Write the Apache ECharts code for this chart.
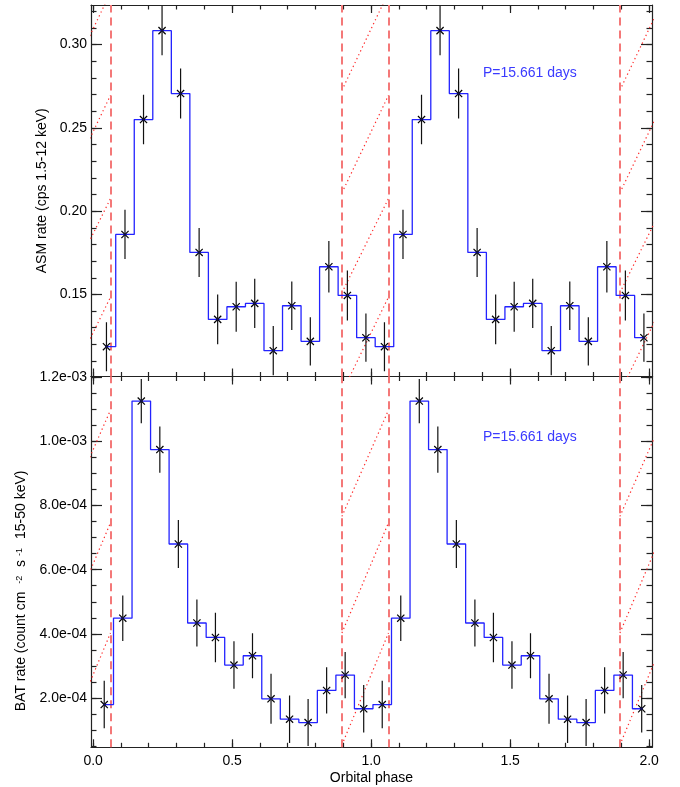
<!DOCTYPE html>
<html><head><meta charset="utf-8">
<script src="https://cdn.jsdelivr.net/npm/echarts@6/dist/echarts.min.js"></script>
<style>html,body{margin:0;padding:0;background:#fff}#c{width:680px;height:787px}</style>
</head><body><div id="c"></div>
<script>
// ---------------- data ----------------
const binWidth = 1 / 15;            // 15 phase bins per orbit
const asmPhase0 = 0.048;            // centre of first ASM bin
const batPhase0 = 0.040;            // centre of first BAT bin
const asmRate = [0.1186, 0.186, 0.255, 0.3084, 0.2706, 0.1752, 0.135, 0.1426, 0.1446, 0.1162, 0.1432, 0.1218, 0.1666, 0.1494, 0.124];
const asmErr  = [0.0147, 0.0148, 0.0149, 0.0148, 0.0150, 0.0147, 0.0149, 0.0150, 0.0148, 0.0148, 0.0145, 0.0145, 0.0154, 0.0150, 0.0145];
const batRate = [1.80e-4, 4.49e-4, 1.125e-3, 9.74e-4, 6.80e-4, 4.34e-4, 3.89e-4, 3.03e-4, 3.32e-4, 1.98e-4, 1.345e-4, 1.24e-4, 2.24e-4, 2.72e-4, 1.67e-4];
const batErr  = [7.4e-5, 7.1e-5, 6.9e-5, 7.2e-5, 7.5e-5, 7.3e-5, 7.7e-5, 7.4e-5, 7.0e-5, 7.8e-5, 7.4e-5, 7.3e-5, 7.2e-5, 7.2e-5, 7.4e-5];
const eclipseStart = 0.895, eclipseEnd = 1.0625;     // dashed lines (mod 1)
const dashedPhases = [0.0625, 0.895, 1.0625, 1.895];
const asmHatchStart = [0.091, 0.151, 0.211, 0.2726];
const asmHatchEnd   = [0.1484, 0.2076, 0.2696, 0.3314];
const batHatchStart = [0.544e-4, 4.03e-4, 7.66e-4];
const batHatchEnd   = [4.03e-4, 7.46e-4, 10.97e-4];
const xTicks   = [0.0, 0.5, 1.0, 1.5, 2.0];
const asmTicks = [0.15, 0.20, 0.25, 0.30];
const batTicks = [2e-4, 4e-4, 6e-4, 8e-4, 1.0e-3, 1.2e-3];
const periodLabel = 'P=15.661 days';
// axis ranges
const xMin = -0.0076, xMax = 2.0104;
const asmMin = 0.1007, asmMax = 0.3238;
const batMin = 4.7e-5, batMax = 1.2015e-3;

// ---------------- helpers ----------------
const r = v => Math.round(v * 1e9) / 1e9;
function steps(a, b, s) { const o = []; for (let i = 0; a + i * s <= b + s * 1e-6; i++) o.push(r(a + i * s)); return o; }
const xMinor = steps(0, 2, 0.1);
const asmMinor = steps(0.11, 0.32, 0.01);
const batMinor = steps(5e-5, 1.2e-3, 5e-5);
const FONT = 'Liberation Sans';

function twoCycles(rate, err, p0) {
  const pts = [];
  for (let c = 0; c < 2; c++) rate.forEach((v, i) => pts.push([r(c + p0 + i * binWidth), v, err[i]]));
  return pts;
}

const panels = [
  { rate: asmRate, err: asmErr, p0: asmPhase0, min: asmMin, max: asmMax, ticks: asmTicks, minor: asmMinor,
    hs: asmHatchStart, he: asmHatchEnd, fmt: v => v.toFixed(2),
    name: 'ASM rate (cps 1.5-12 keV)', gap: 37, rich: null },
  { rate: batRate, err: batErr, p0: batPhase0, min: batMin, max: batMax, ticks: batTicks, minor: batMinor,
    hs: batHatchStart, he: batHatchEnd, fmt: v => v.toExponential(1).replace(/e([+-])(\d)$/, 'e$10$2'),
    name: '{n|BAT rate (count cm }{s|-2}{n| s}{s|-1}{n| 15-50 keV)}', gap: 47, rich: true }
];

const grids = [
  { left: 91, top: 5, width: 561, height: 371.5 },
  { left: 91, top: 376.5, width: 561, height: 370.8 }
];

const xAxes = [], yAxes = [], series = [];
const lineCol = '#222';

panels.forEach((p, g) => {
  [['bottom', true], ['bottom', false], ['top', true], ['top', false]].forEach(([pos, major]) => {
    const vals = major ? xTicks : xMinor;
    const showLabel = major && pos === 'bottom' && g === 1;
    const ax = {
      type: 'value', gridIndex: g, position: pos, min: xMin, max: xMax,
      axisLine: { show: major, onZero: false, lineStyle: { color: lineCol, width: 1.2 } },
      axisTick: { show: true, inside: true, length: major ? 8 : 4.5, customValues: vals, lineStyle: { color: lineCol, width: 1.2 } },
      axisLabel: showLabel ? { show: true, customValues: vals, margin: 7, formatter: v => v.toFixed(1), fontFamily: FONT, fontSize: 14, color: '#000' } : { show: false },
      splitLine: { show: false }
    };
    if (showLabel) {
      ax.name = 'Orbital phase'; ax.nameLocation = 'middle'; ax.nameGap = 24;
      ax.nameTextStyle = { fontFamily: FONT, fontSize: 14, color: '#000' };
    }
    xAxes.push(ax);
  });
  [['left', true], ['left', false], ['right', true], ['right', false]].forEach(([pos, major]) => {
    const vals = major ? p.ticks : p.minor;
    const showLabel = major && pos === 'left';
    const ax = {
      type: 'value', gridIndex: g, position: pos, min: p.min, max: p.max,
      axisLine: { show: major, onZero: false, lineStyle: { color: lineCol, width: 1.2 } },
      axisTick: { show: true, inside: true, length: major ? 11 : 5.5, customValues: vals, lineStyle: { color: lineCol, width: 1.2 } },
      axisLabel: showLabel ? { show: true, customValues: vals, margin: 4, formatter: p.fmt, fontFamily: FONT, fontSize: 14, color: '#000' } : { show: false },
      splitLine: { show: false }
    };
    if (showLabel) {
      ax.name = p.name; ax.nameLocation = 'middle'; ax.nameGap = p.gap;
      ax.nameTextStyle = { fontFamily: FONT, fontSize: 14, color: '#000' };
      if (p.rich) {
        ax.nameTextStyle.padding = [0, 58, 0, 0];
        ax.nameTextStyle.rich = {
          n: { fontFamily: FONT, fontSize: 14, color: '#000' },
          s: { fontFamily: FONT, fontSize: 9, color: '#000', verticalAlign: 'top', padding: [0, 5, 0, 4] }
        };
      }
    }
    yAxes.push(ax);
  });

  const xi = 4 * g, yi = 4 * g;
  const hatch = [];
  [-1, 0, 1].forEach(k => {
    p.hs.forEach((s, j) => hatch.push({ coords: [[eclipseStart + k, s], [eclipseEnd + k, p.he[j]]] }));
  });
  series.push({
    type: 'lines', coordinateSystem: 'cartesian2d', xAxisIndex: xi, yAxisIndex: yi, clip: true, z: 1,
    data: hatch, lineStyle: { color: '#ff2a2a', width: 1.2, type: [1.3, 3], opacity: 1 }, silent: true
  });
  series.push({
    type: 'lines', coordinateSystem: 'cartesian2d', xAxisIndex: xi, yAxisIndex: yi, clip: true, z: 2,
    data: dashedPhases.map(ph => ({ coords: [[ph, p.min], [ph, p.max]] })),
    lineStyle: { color: '#f47878', width: 2, type: [8, 5], opacity: 1 }, silent: true
  });
  const pts = twoCycles(p.rate, p.err, p.p0);
  series.push({
    type: 'line', xAxisIndex: xi, yAxisIndex: yi, step: 'middle', showSymbol: false, symbol: 'none', z: 3,
    data: pts.map(d => [d[0], d[1]]), lineStyle: { color: '#2323ff', width: 1.3 }, clip: true, silent: true
  });
  series.push({
    type: 'custom', xAxisIndex: xi, yAxisIndex: yi, z: 4, clip: true, silent: true,
    data: pts,
    renderItem: (params, api) => {
      const x = api.value(0), y = api.value(1), e = api.value(2);
      const c = api.coord([x, y]), t = api.coord([x, y + e]), b = api.coord([x, y - e]);
      const s = 3.6;
      const st = { stroke: '#111', lineWidth: 1.2 };
      return { type: 'group', children: [
        { type: 'line', shape: { x1: c[0], y1: t[1], x2: c[0], y2: b[1] }, style: st },
        { type: 'line', shape: { x1: c[0] - s, y1: c[1] - s, x2: c[0] + s, y2: c[1] + s }, style: { stroke: '#000', lineWidth: 1.2 } },
        { type: 'line', shape: { x1: c[0] - s, y1: c[1] + s, x2: c[0] + s, y2: c[1] - s }, style: { stroke: '#000', lineWidth: 1.2 } },
        { type: 'rect', shape: { x: c[0] - 1.2, y: c[1] - 1.2, width: 2.4, height: 2.4 }, style: { fill: '#12124a' } }
      ] };
    }
  });
});

const option = {
  animation: false,
  backgroundColor: '#fff',
  grid: grids,
  xAxis: xAxes,
  yAxis: yAxes,
  series: series,
  graphic: [
    { type: 'text', left: 483, top: 66, style: { text: periodLabel, fill: '#3a3aff', font: '14px "Liberation Sans"' } },
    { type: 'text', left: 483, top: 430, style: { text: periodLabel, fill: '#3a3aff', font: '14px "Liberation Sans"' } }
  ]
};
const chart = echarts.init(document.getElementById('c'), null, { renderer: 'canvas' });
chart.setOption(option);
</script></body></html>
